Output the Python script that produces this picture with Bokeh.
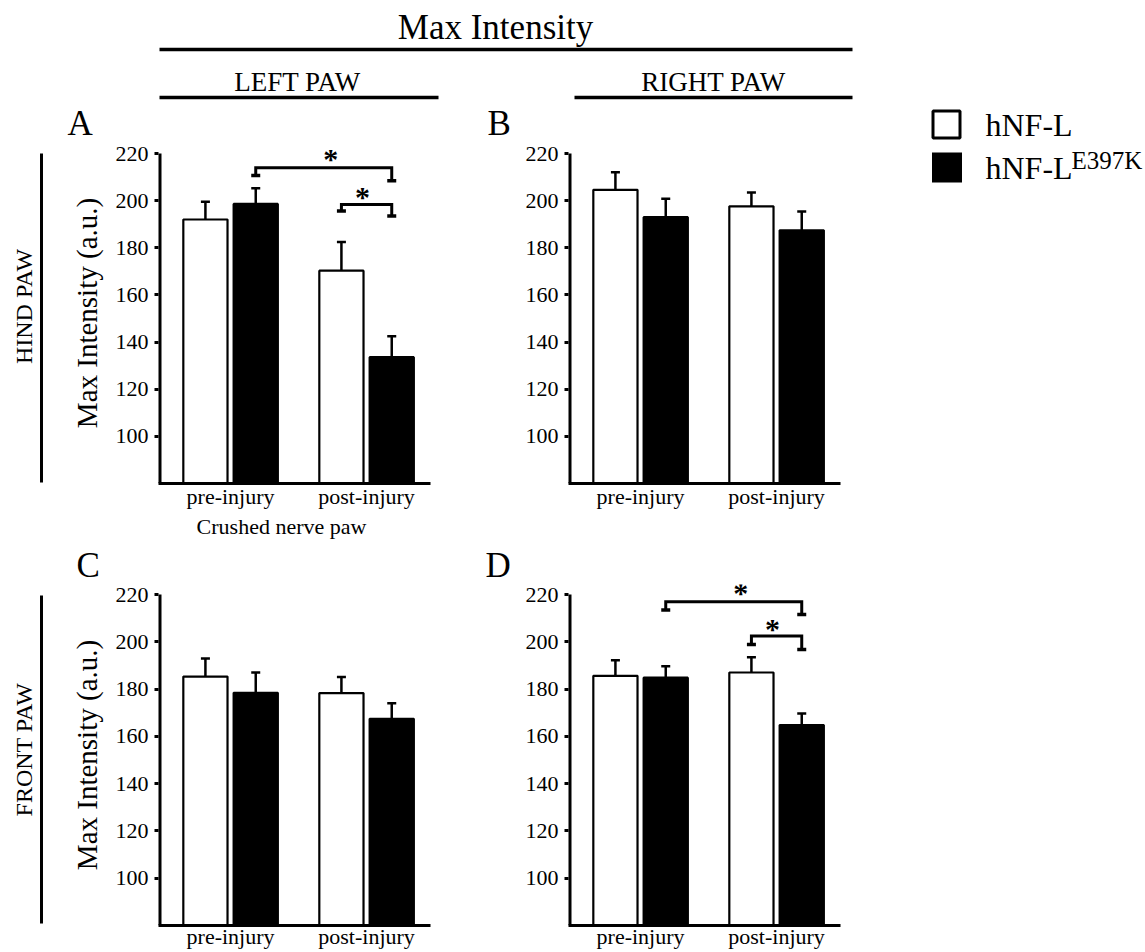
import numpy as np
from bokeh.plotting import figure
from bokeh.models import Range1d, FixedTicker, ColumnDataSource, Whisker, TeeHead
from bokeh.layouts import row, column
from bokeh.embed import file_html
from bokeh.resources import INLINE
from bokeh.core.properties import value

FONT = "Liberation Serif"

# ---------------- data ----------------
groups = ["pre-injury", "post-injury"]
series_names = ["hNF-L", "hNF-L"]
series_sup = ["", "E397K"]
y_ticks = [100, 120, 140, 160, 180, 200, 220]
y_label = "Max Intensity (a.u.)"
x_note = "Crushed nerve paw"
panel_letters = ["A", "B", "C", "D"]
row_labels = ["HIND PAW", "FRONT PAW"]
col_labels = ["LEFT PAW", "RIGHT PAW"]
main_title = "Max Intensity"

# Panel A: hind paw, left (crushed nerve paw)
a_wt = [192.0, 170.3]
a_wt_err = [7.5, 12.2]
a_mut = [198.6, 133.6]
a_mut_err = [6.7, 8.9]
# Panel B: hind paw, right
b_wt = [204.6, 197.6]
b_wt_err = [7.4, 5.9]
b_mut = [193.0, 187.4]
b_mut_err = [7.8, 8.0]
# Panel C: front paw, left
c_wt = [185.3, 178.3]
c_wt_err = [7.6, 6.8]
c_mut = [178.4, 167.4]
c_mut_err = [8.6, 6.6]
# Panel D: front paw, right
d_wt = [185.6, 187.0]
d_wt_err = [6.6, 6.5]
d_mut = [184.8, 164.8]
d_mut_err = [4.9, 4.9]

# significance brackets: (group_from, series_from, group_to, series_to, bar_y, foot_from_y, foot_to_y)
a_sig = [(0, 1, 1, 1, 214.0, 210.7, 208.4), (1, 0, 1, 1, 198.4, 195.6, 193.5)]
d_sig = [(0, 1, 1, 1, 216.9, 213.4, 211.5), (1, 0, 1, 1, 202.4, 198.8, 196.7)]

# ---------------- styling / layout ----------------
X0, X1 = 0.47, 2.47
OFF = 0.185
BW = 0.325
Y0, Y_AX_TOP = 80, 220
SIDE_W = 60
PANEL_W = 410
LEG_W = 265
BL, BR = 98, 40
STAR_DX = [7, -4]      # horizontal nudge (px) of the asterisk for the outer / inner bracket
STAR_DY = [-9, -8]

HDR_H = 142                                  # page y 0..142
TOP_H, TOP_BT, TOP_BB, TOP_SO = 373, 0, 32, 0   # page y 142..515, frame 142..483
MID_H = 69                                   # page y 515..584
BOT_H, BOT_BT, BOT_BB, BOT_SO = 368, 0, 27, -2  # page y 584..952, frame 584..925
TOTAL_H = HDR_H + TOP_H + MID_H + BOT_H

# pixel rows where the 220 tick sits (reference), used to size the value range above the axis top
TOP_TICK220, BOT_TICK220 = 153, 594


def range_top(frame_top, frame_bot, tick_px):
    scale = (frame_bot - tick_px) / (Y_AX_TOP - Y0)
    return Y_AX_TOP + (tick_px - frame_top) / scale


def blank_fig(w, h, xr, yr, bt=0, bb=0):
    p = figure(width=w, height=h, x_range=Range1d(*xr), y_range=Range1d(*yr),
               output_backend="svg", toolbar_location=None,
               min_border_left=0, min_border_right=0, min_border_top=bt, min_border_bottom=bb)
    p.axis.visible = False
    p.grid.visible = False
    p.outline_line_color = None
    p.background_fill_color = "white"
    p.border_fill_color = "white"
    return p


def txt(p, x, y, s, size, align="center", angle=0.0):
    p.text([x], [y], text=[s], angle=angle, text_font=value(FONT), text_font_size=size,
           text_align=align, text_baseline="middle", text_color="black")


def make_panel(wt, wt_err, mut, mut_err, sig, show_ylabel, fig_h, b_top, b_bot, y1, standoff):
    p = figure(width=PANEL_W, height=fig_h, x_range=Range1d(X0, X1), y_range=Range1d(Y0, y1),
               output_backend="svg", toolbar_location=None,
               min_border_left=BL, min_border_right=BR, min_border_top=b_top, min_border_bottom=b_bot)
    p.outline_line_color = None
    p.grid.visible = False
    p.background_fill_color = "white"
    p.border_fill_color = "white"

    pos = np.arange(1, len(groups) + 1, dtype=float)
    xs = [pos - OFF, pos + OFF]
    vals = [wt, mut]
    errs = [wt_err, mut_err]
    fills = ["white", "black"]
    for k in range(2):
        src = ColumnDataSource(dict(x=xs[k], top=vals[k], upper=np.add(vals[k], errs[k])))
        p.vbar(x="x", top="top", bottom=Y0, width=BW, source=src,
               fill_color=fills[k], line_color="black", line_width=2.2)
        p.add_layout(Whisker(source=src, base="x", lower="top", upper="upper", dimension="height",
                             line_color="black", line_width=2.5, lower_head=None, level="overlay",
                             upper_head=TeeHead(size=9, line_width=2.5, line_color="black")))

    for i, (g1, s1, g2, s2, yb, f1, f2) in enumerate(sig):
        xa = xs[s1][g1]
        xb = xs[s2][g2]
        p.line([xa, xa, xb, xb], [f1, yb, yb, f2], line_width=3, line_color="black", line_join="miter")
        p.rect([xa, xb], [f1, f2], width=9, height=3.5, width_units="screen", height_units="screen",
               fill_color="black", line_color=None)
        p.text([(xa + xb) / 2], [yb], text=["*"], text_font=value(FONT), text_font_size="30px",
               text_font_style="bold", text_align="center", text_baseline="middle",
               text_color="black", x_offset=STAR_DX[i], y_offset=STAR_DY[i])

    # value-axis line only up to the top tick (half of the 6px line is clipped by the frame)
    p.segment([X0], [Y0], [X0], [Y_AX_TOP], line_width=6, line_color="black")

    ya = p.yaxis[0]
    ya.ticker = FixedTicker(ticks=y_ticks)
    ya.axis_line_color = None
    ya.major_tick_line_width = 3
    ya.major_tick_line_color = "black"
    ya.major_tick_out = 4
    ya.major_tick_in = 0
    ya.minor_tick_line_color = None
    ya.major_label_text_font = FONT
    ya.major_label_text_font_size = "22px"
    ya.major_label_text_color = "black"
    ya.major_label_standoff = 6
    if show_ylabel:
        ya.axis_label = y_label
        ya.axis_label_text_font = FONT
        ya.axis_label_text_font_size = "29px"
        ya.axis_label_text_font_style = "normal"
        ya.axis_label_text_color = "black"
        ya.axis_label_standoff = 10

    xa = p.xaxis[0]
    xa.ticker = FixedTicker(ticks=list(pos))
    xa.major_label_overrides = {float(i + 1): g for i, g in enumerate(groups)}
    xa.axis_line_width = 3
    xa.axis_line_color = "black"
    xa.major_tick_line_color = None
    xa.major_tick_out = 0
    xa.major_tick_in = 0
    xa.minor_tick_line_color = None
    xa.major_label_text_font = FONT
    xa.major_label_text_font_size = "22px"
    xa.major_label_text_color = "black"
    xa.major_label_standoff = standoff
    return p


top_f0, top_f1 = HDR_H + TOP_BT, HDR_H + TOP_H - TOP_BB
bot_f0 = HDR_H + TOP_H + MID_H + BOT_BT
bot_f1 = TOTAL_H - BOT_BB
y1_top = range_top(top_f0, top_f1, TOP_TICK220)
y1_bot = range_top(bot_f0, bot_f1, BOT_TICK220)

pA = make_panel(a_wt, a_wt_err, a_mut, a_mut_err, a_sig, True, TOP_H, TOP_BT, TOP_BB, y1_top, TOP_SO)
pB = make_panel(b_wt, b_wt_err, b_mut, b_mut_err, [], False, TOP_H, TOP_BT, TOP_BB, y1_top, TOP_SO)
pC = make_panel(c_wt, c_wt_err, c_mut, c_mut_err, [], True, BOT_H, BOT_BT, BOT_BB, y1_bot, BOT_SO)
pD = make_panel(d_wt, d_wt_err, d_mut, d_mut_err, d_sig, False, BOT_H, BOT_BT, BOT_BB, y1_bot, BOT_SO)

# side labels: data coords == page pixels inside the (row-aligned) frame
s1 = blank_fig(SIDE_W, TOP_H, (0, SIDE_W), (top_f1, top_f0), TOP_BT, TOP_BB)
s1.segment([41], [153], [41], [482], line_width=3, line_color="black")
txt(s1, 23, 306, row_labels[0], "24px", angle=np.pi / 2)
s2 = blank_fig(SIDE_W, BOT_H, (0, SIDE_W), (bot_f1, bot_f0), BOT_BT, BOT_BB)
s2.segment([41], [595], [41], [923], line_width=3, line_color="black")
txt(s2, 23, 749, row_labels[1], "24px", angle=np.pi / 2)

# header (page coords)
CW = SIDE_W + 2 * PANEL_W
hdr = blank_fig(CW, HDR_H, (0, CW), (HDR_H, 0))
txt(hdr, 495, 27, main_title, "35px")
hdr.segment([159], [49], [852], [49], line_width=3.5, line_color="black")
txt(hdr, 297, 81, col_labels[0], "27px")
txt(hdr, 713, 81, col_labels[1], "27px")
hdr.segment([159, 574], [97, 97], [438, 852], [97, 97], line_width=3.5, line_color="black")
txt(hdr, 67, 122.5, panel_letters[0], "35px", align="left")
txt(hdr, 487, 122.5, panel_letters[1], "35px", align="left")

# middle strip (page coords)
y_mid0 = HDR_H + TOP_H
mid = blank_fig(CW, MID_H, (0, CW), (y_mid0 + MID_H, y_mid0))
txt(mid, 281, 526, x_note, "22px")
txt(mid, 76, 564.5, panel_letters[2], "35px", align="left")
txt(mid, 485, 564.5, panel_letters[3], "35px", align="left")

# legend column (page coords)
leg = blank_fig(LEG_W, TOTAL_H, (CW, CW + LEG_W), (TOTAL_H, 0))
leg.rect([946], [124], width=27, height=27, width_units="screen", height_units="screen",
         fill_color="white", line_color="black", line_width=3)
leg.rect([946.5], [167], width=30, height=30, width_units="screen", height_units="screen",
         fill_color="black", line_color=None)
leg.text([985, 985], [124, 167], text=series_names, text_font=value(FONT), text_font_size="32px",
         text_align="left", text_baseline="middle", text_color="black")
leg.text([1071], [160], text=[series_sup[1]], text_font=value(FONT), text_font_size="25px",
         text_align="left", text_baseline="middle", text_color="black")

layout = row(column(hdr, row(s1, pA, pB), mid, row(s2, pC, pD)), leg)

open("out.html", "w").write(file_html(layout, INLINE))
